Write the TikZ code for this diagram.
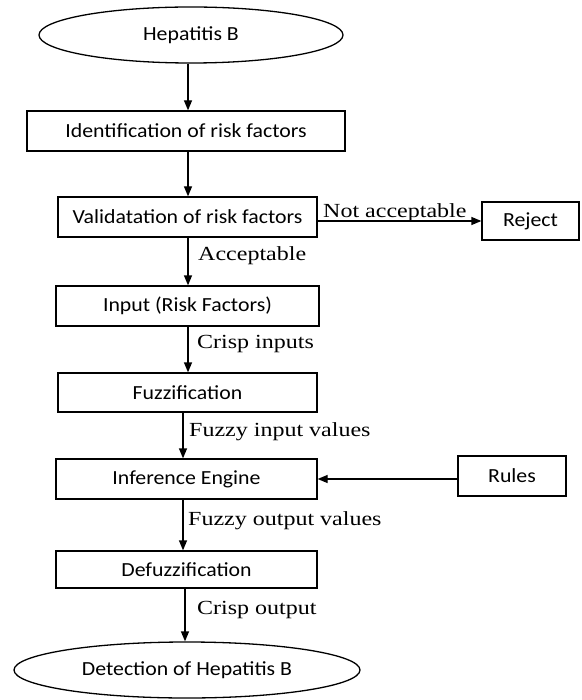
\documentclass[tikz,border=0pt]{standalone}
\usepackage{fontspec}
\setmainfont{Liberation Serif}
\newfontfamily\boxfont[FakeStretch=1.09]{Carlito}
\newfontfamily\labfont[FakeStretch=1.2]{Liberation Serif}
\usetikzlibrary{shapes.geometric,arrows.meta}
\begin{document}
\begin{tikzpicture}[x=1pt,y=-1pt,
  every node/.style={inner sep=0pt},
  procbox/.style={draw, line width=1.3pt, rectangle, font=\boxfont\fontsize{20}{24}\selectfont},
  termbox/.style={draw, line width=1.3pt, ellipse, font=\boxfont\fontsize{20}{24}\selectfont},
  flow/.style={line width=1.3pt, -{Triangle[length=10pt,width=8pt]}},
  lab/.style={anchor=base west, font=\labfont\fontsize{20}{24}\selectfont}
]
\useasboundingbox (0,0) rectangle (581,700);

\node[termbox, minimum width=304pt, minimum height=56pt] (start) at (191,35) {Hepatitis B};
\node[procbox, minimum width=318pt, minimum height=40pt] (ident) at (186,131) {Identification of risk factors};
\node[procbox, minimum width=259pt, minimum height=40pt] (valid) at (187.5,217) {Validatation of risk factors};
\node[procbox, minimum width=97pt, minimum height=38pt] (reject) at (530.5,221) {Reject};
\node[procbox, minimum width=263pt, minimum height=40pt] (input) at (187.5,306) {Input (Risk Factors)};
\node[procbox, minimum width=259pt, minimum height=39pt] (fuzz) at (187.5,392.5) {Fuzzification};
\node[procbox, minimum width=261pt, minimum height=40pt] (infer) at (186.5,479) {Inference Engine};
\node[procbox, minimum width=108pt, minimum height=40pt] (rules) at (512,476) {Rules};
\node[procbox, minimum width=261pt, minimum height=37pt] (defuzz) at (186.5,569.5) {Defuzzification};
\node[termbox, minimum width=346pt, minimum height=56pt] (detect) at (187,670) {Detection of Hepatitis B};

\draw[flow] ([xshift=-3pt]start.south) -- ([xshift=2pt]ident.north);
\draw[flow] ([xshift=2pt]ident.south) -- ([xshift=0.5pt]valid.north);
\draw[flow] ([xshift=0.5pt]valid.south) -- ([xshift=0.5pt]input.north);
\draw[flow] ([xshift=0.5pt]input.south) -- ([xshift=0.5pt]fuzz.north);
\draw[flow] ([xshift=-4.5pt]fuzz.south) -- ([xshift=-3.5pt]infer.north);
\draw[flow] ([xshift=-3.5pt]infer.south) -- ([xshift=-3.5pt]defuzz.north);
\draw[flow] ([xshift=-1.5pt]defuzz.south) -- ([xshift=-2pt]detect.north);
\draw[flow] (reject.west -| valid.east) -- (reject.west);
\draw[flow] (rules.west |- infer.east) -- (infer.east);

\node[lab] (lnot) at (323,218) {Not acceptable};
\node[lab] (lacc) at (198,260) {Acceptable};
\node[lab] (lcin) at (197,348) {Crisp inputs};
\node[lab] (lfin) at (189,436) {Fuzzy input values};
\node[lab] (lfout) at (188,525) {Fuzzy output values};
\node[lab] (lcout) at (197,614) {Crisp output};
\end{tikzpicture}
\end{document}
